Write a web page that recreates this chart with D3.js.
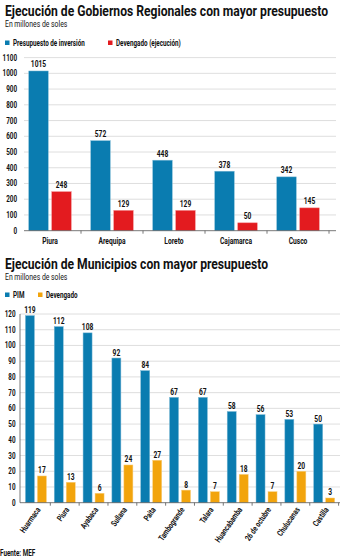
<!DOCTYPE html>
<html lang="es">
<head>
<meta charset="utf-8">
<title>Ejecución presupuestal</title>
<script src="https://cdn.jsdelivr.net/npm/d3@7"></script>
<style>
  body { margin: 0; background: #fff; }
  svg text { font-family: Roboto, "DejaVu Sans", sans-serif; fill: #111; }
</style>
</head>
<body>
<script>
// Gobiernos regionales
var regiones = ["Piura", "Arequipa", "Loreto", "Cajamarca", "Cusco"];
var presupuesto = [1015, 572, 448, 378, 342];
var devengadoReg = [248, 129, 129, 50, 145];
var ticksReg = [0, 100, 200, 300, 400, 500, 600, 700, 800, 900, 1000, 1100];

// Municipios
var municipios = ["Huarmaca", "Piura", "Ayabaca", "Sullana", "Paita", "Tambogrande", "Talara", "Huancabamba", "26 de octubre", "Chulucanas", "Castilla"];
var pim = [119, 112, 108, 92, 84, 67, 67, 58, 56, 53, 50];
var devengadoMun = [17, 13, 6, 24, 27, 8, 7, 18, 7, 20, 3];
var ticksMun = [0, 10, 20, 30, 40, 50, 60, 70, 80, 90, 100, 110, 120];

var azul = "#0a7cb0", rojo = "#e31b1f", naranja = "#f2a40c";
var K = 0.74; // squeeze factor, the layout wants a condensed face

var svg = d3.select("body").append("svg").attr("width", 343).attr("height", 559);

// narrow every text of a selection horizontally
function narrow(sel, k) {
    sel.each(function () {
        var w = this.getComputedTextLength();
        d3.select(this).attr("textLength", w * (k || K)).attr("lengthAdjust", "spacingAndGlyphs");
    });
    return sel;
}

function titulo(y, txt, ancho, sub) {
    svg.append("text").attr("x", 5).attr("y", y).text(txt)
        .attr("font-size", "15.5px").attr("font-weight", "bold")
        .attr("textLength", ancho).attr("lengthAdjust", "spacingAndGlyphs");
    narrow(svg.append("text").attr("x", 5).attr("y", y + 11).text(sub)
        .attr("font-size", "9px"), 0.76);
}

function leyenda(y, items) {
    items.forEach(function (it) {
        svg.append("rect").attr("x", it.x).attr("y", y - 4.5).attr("width", 4.5).attr("height", 4.5).attr("fill", it.color);
        narrow(svg.append("text").attr("x", it.x + 8).attr("y", y + 0.5).text(it.label)
            .attr("font-size", "8.5px").attr("font-weight", "bold"));
    });
}

// ---------- chart 1 ----------
titulo(15.5, "Ejecución de Gobiernos Regionales con mayor presupuesto", 323, "En millones de soles");
leyenda(45, [{x: 5, color: azul, label: "Presupuesto de inversión"}, {x: 108, color: rojo, label: "Devengado (ejecución)"}]);

var y1 = d3.scaleLinear().domain([0, 1100]).range([230.7, 57.6]);
var x1 = d3.scaleBand().domain(regiones).range([19, 329]);
var g1 = svg.append("g");

g1.selectAll("line.grid").data(ticksReg.slice(1)).enter().append("line")
    .attr("x1", 24).attr("x2", 336).attr("y1", function (d) { return y1(d); }).attr("y2", function (d) { return y1(d); })
    .attr("stroke", "#d6d6d6").attr("stroke-width", 0.8);
narrow(g1.selectAll("text.yt").data(ticksReg).enter().append("text")
    .attr("x", 17).attr("y", function (d) { return y1(d) + 3; }).attr("text-anchor", "end")
    .attr("font-size", "8.5px").attr("font-weight", "bold").text(function (d) { return d; }));

var bw1 = 19.5, gap1 = 3.5;
g1.selectAll("rect.pre").data(presupuesto).enter().append("rect")
    .attr("x", function (d, i) { return x1(regiones[i]) + x1.bandwidth() / 2 - bw1 - gap1 / 2; })
    .attr("y", function (d) { return y1(d); }).attr("width", bw1).attr("height", function (d) { return y1(0) - y1(d); })
    .attr("fill", azul).attr("stroke", "#7fb9d6").attr("stroke-width", 0.5);
g1.selectAll("rect.dev").data(devengadoReg).enter().append("rect")
    .attr("x", function (d, i) { return x1(regiones[i]) + x1.bandwidth() / 2 + gap1 / 2; })
    .attr("y", function (d) { return y1(d); }).attr("width", bw1).attr("height", function (d) { return y1(0) - y1(d); })
    .attr("fill", rojo).attr("stroke", "#f08a8c").attr("stroke-width", 0.5);

narrow(g1.selectAll("text.vp").data(presupuesto).enter().append("text")
    .attr("x", function (d, i) { return x1(regiones[i]) + x1.bandwidth() / 2 - bw1 / 2 - gap1 / 2; })
    .attr("y", function (d) { return y1(d) - 3.5; }).attr("text-anchor", "middle")
    .attr("font-size", "9px").attr("font-weight", "bold").text(function (d) { return d; }));
narrow(g1.selectAll("text.vd").data(devengadoReg).enter().append("text")
    .attr("x", function (d, i) { return x1(regiones[i]) + x1.bandwidth() / 2 + bw1 / 2 + gap1 / 2; })
    .attr("y", function (d) { return y1(d) - 3.5; }).attr("text-anchor", "middle")
    .attr("font-size", "9px").attr("font-weight", "bold").text(function (d) { return d; }));

g1.append("line").attr("x1", 24).attr("x2", 336).attr("y1", y1(0)).attr("y2", y1(0)).attr("stroke", "#555").attr("stroke-width", 0.8);
g1.selectAll("line.xt").data(regiones).enter().append("line")
    .attr("x1", function (d) { return x1(d) + x1.step(); }).attr("x2", function (d) { return x1(d) + x1.step(); })
    .attr("y1", y1(0)).attr("y2", y1(0) + 3).attr("stroke", "#555").attr("stroke-width", 0.8);
narrow(g1.selectAll("text.xl").data(regiones).enter().append("text")
    .attr("x", function (d) { return x1(d) + x1.bandwidth() / 2; }).attr("y", 244).attr("text-anchor", "middle")
    .attr("font-size", "9px").attr("font-weight", "bold").text(function (d) { return d; }));

// ---------- chart 2 ----------
titulo(268.5, "Ejecución de Municipios con mayor presupuesto", 263, "En millones de soles");
leyenda(297, [{x: 5, color: azul, label: "PIM"}, {x: 38, color: naranja, label: "Devengado"}]);

var y2 = d3.scaleLinear().domain([0, 120]).range([502.7, 314]);
var x2 = d3.scaleBand().domain(municipios).range([21.5, 338.6]);
var g2 = svg.append("g");

g2.selectAll("line.grid").data(ticksMun.slice(1)).enter().append("line")
    .attr("x1", 20).attr("x2", 340).attr("y1", function (d) { return y2(d); }).attr("y2", function (d) { return y2(d); })
    .attr("stroke", "#d6d6d6").attr("stroke-width", 0.8);
narrow(g2.selectAll("text.yt").data(ticksMun).enter().append("text")
    .attr("x", 15.5).attr("y", function (d) { return y2(d) + 3; }).attr("text-anchor", "end")
    .attr("font-size", "8.5px").attr("font-weight", "bold").text(function (d) { return d; }));

var bw2 = 9, gap2 = 3;
g2.selectAll("rect.pim").data(pim).enter().append("rect")
    .attr("x", function (d, i) { return x2(municipios[i]) + x2.bandwidth() / 2 - bw2 - gap2 / 2; })
    .attr("y", function (d) { return y2(d); }).attr("width", bw2).attr("height", function (d) { return y2(0) - y2(d); })
    .attr("fill", azul).attr("stroke", "#7fb9d6").attr("stroke-width", 0.5);
g2.selectAll("rect.dev").data(devengadoMun).enter().append("rect")
    .attr("x", function (d, i) { return x2(municipios[i]) + x2.bandwidth() / 2 + gap2 / 2; })
    .attr("y", function (d) { return y2(d); }).attr("width", bw2).attr("height", function (d) { return y2(0) - y2(d); })
    .attr("fill", naranja).attr("stroke", "#f8cf80").attr("stroke-width", 0.5);

narrow(g2.selectAll("text.vp").data(pim).enter().append("text")
    .attr("x", function (d, i) { return x2(municipios[i]) + x2.bandwidth() / 2 - bw2 / 2 - gap2 / 2; })
    .attr("y", function (d) { return y2(d) - 2.5; }).attr("text-anchor", "middle")
    .attr("font-size", "9px").attr("font-weight", "bold").text(function (d) { return d; }));
narrow(g2.selectAll("text.vd").data(devengadoMun).enter().append("text")
    .attr("x", function (d, i) { return x2(municipios[i]) + x2.bandwidth() / 2 + bw2 / 2 + gap2 / 2; })
    .attr("y", function (d) { return y2(d) - 2.5; }).attr("text-anchor", "middle")
    .attr("font-size", "9px").attr("font-weight", "bold").text(function (d) { return d; }));

g2.append("line").attr("x1", 20).attr("x2", 20).attr("y1", y2(120)).attr("y2", y2(0)).attr("stroke", "#555").attr("stroke-width", 0.8);
g2.append("line").attr("x1", 20).attr("x2", 340).attr("y1", y2(0)).attr("y2", y2(0)).attr("stroke", "#555").attr("stroke-width", 0.8);
g2.selectAll("line.xt").data(municipios).enter().append("line")
    .attr("x1", function (d) { return x2(d) + x2.step(); }).attr("x2", function (d) { return x2(d) + x2.step(); })
    .attr("y1", y2(0)).attr("y2", y2(0) + 3).attr("stroke", "#555").attr("stroke-width", 0.8);
narrow(g2.selectAll("text.xl").data(municipios).enter().append("text")
    .attr("transform", function (d) { return "translate(" + (x2(d) + x2.bandwidth() / 2 + 5) + "," + (y2(0) + 7) + ") rotate(-55)"; })
    .attr("text-anchor", "end").attr("font-size", "8.5px").attr("font-weight", "bold").text(function (d) { return d; }));

narrow(svg.append("text").attr("x", 0).attr("y", 556).text("Fuente: MEF").attr("font-size", "8.5px").attr("font-weight", "bold"));
</script>
</body>
</html>
